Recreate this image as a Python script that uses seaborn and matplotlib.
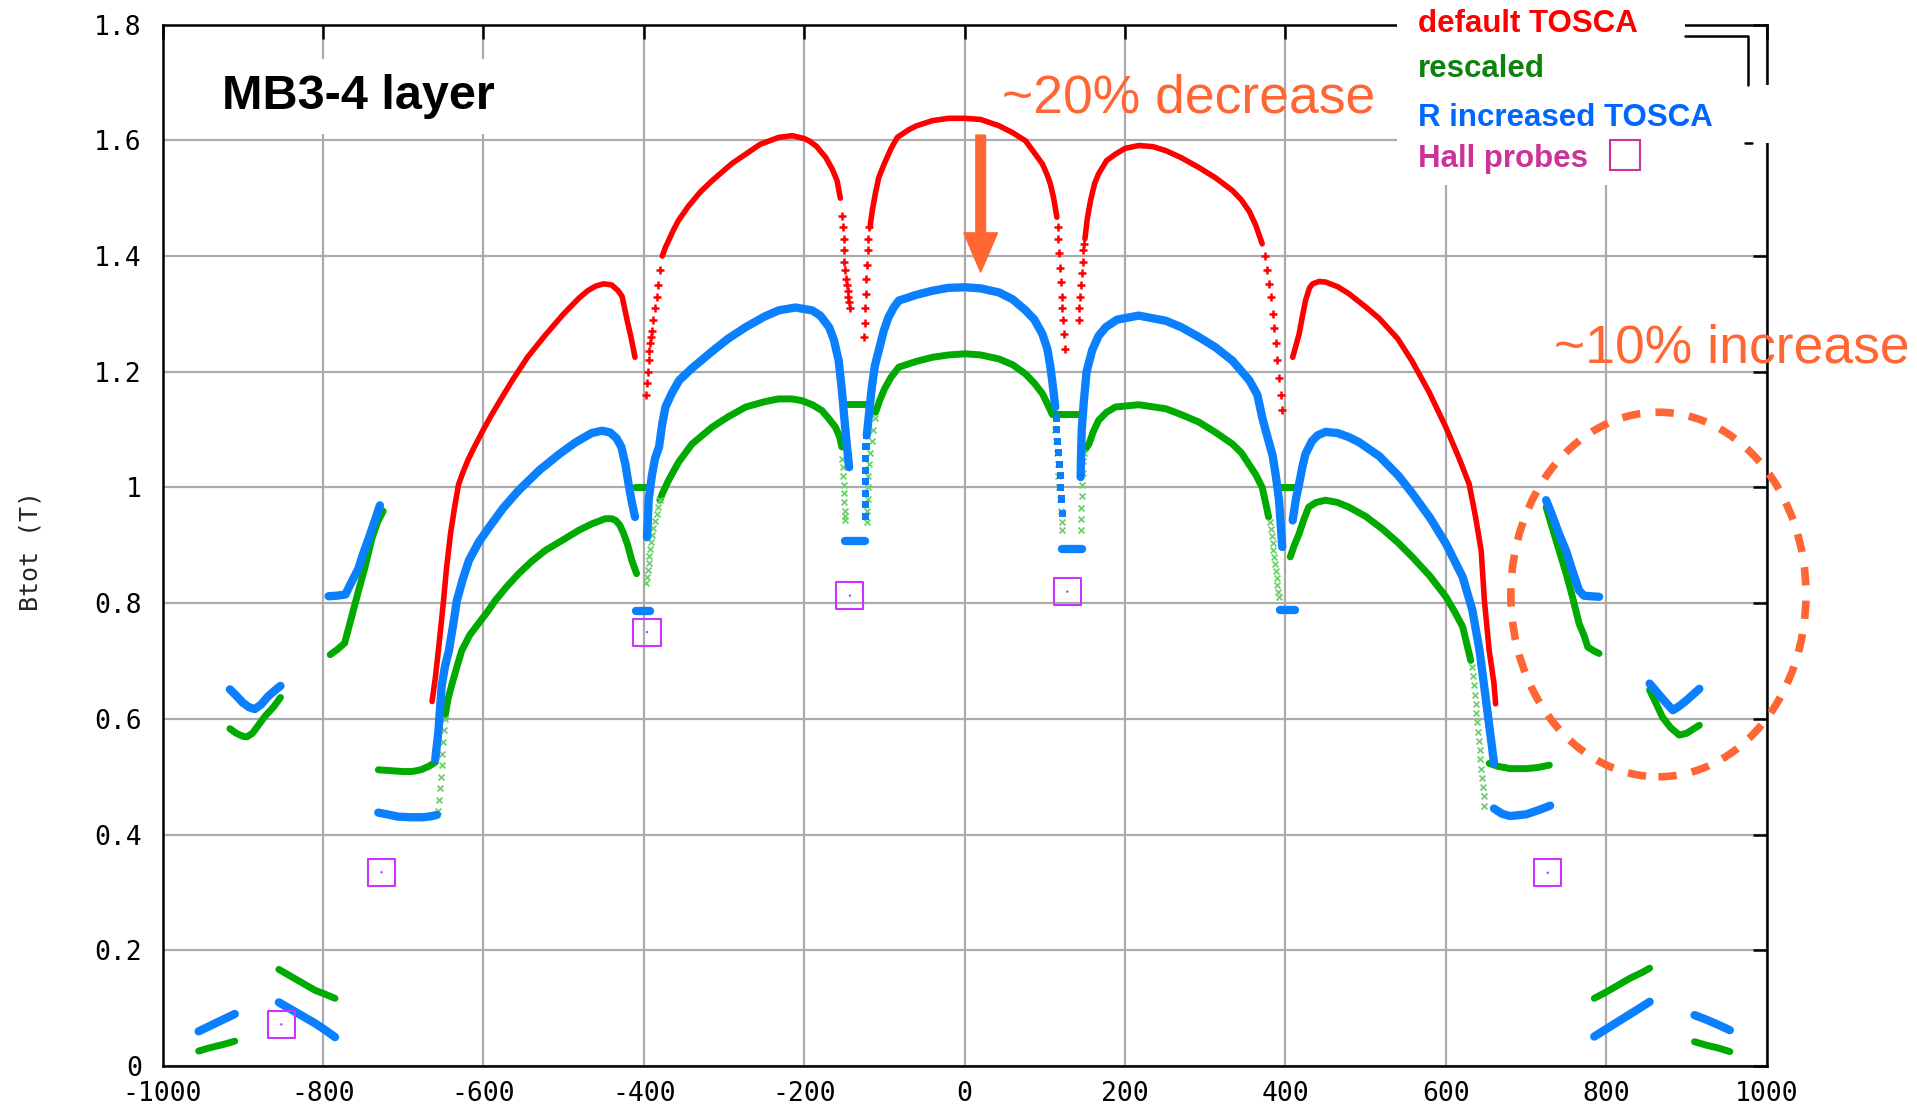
import matplotlib
matplotlib.use("Agg")
import matplotlib.pyplot as plt
from matplotlib.patches import Ellipse, Rectangle
from matplotlib.lines import Line2D
import seaborn as sns

# ---------------- axis ticks ----------------
x_ticks = [-1000, -800, -600, -400, -200, 0, 200, 400, 600, 800, 1000]
x_tick_labels = ["-1000", "-800", "-600", "-400", "-200", "0", "200", "400", "600", "800", "1000"]
y_ticks = [0, 0.2, 0.4, 0.6, 0.8, 1.0, 1.2, 1.4, 1.6, 1.8]
y_tick_labels = ["0", "0.2", "0.4", "0.6", "0.8", "1", "1.2", "1.4", "1.6", "1.8"]

legend_labels = ["default TOSCA", "rescaled", "R increased TOSCA", "Hall probes"]

# ---------------- default TOSCA (red) ----------------
red_curves = [
    ([-664, -660, -656, -650, -646, -641, -636, -631, -625, -619, -612, -600, -590, -578, -564, -545,
      -523, -500, -481, -470, -460, -450, -440, -432, -427, -424, -421, -416, -411],
     [0.63, 0.67, 0.72, 0.80, 0.86, 0.92, 0.965, 1.005, 1.028, 1.048, 1.068, 1.10, 1.125, 1.153, 1.185,
      1.225, 1.263, 1.30, 1.327, 1.34, 1.348, 1.352, 1.35, 1.34, 1.33, 1.31, 1.29, 1.26, 1.225]),
    ([-377, -373, -369, -363, -357, -345, -330, -315, -300, -290, -273, -255, -232, -215, -200, -194,
      -185, -173, -165, -159, -155],
     [1.40, 1.415, 1.427, 1.445, 1.461, 1.485, 1.51, 1.53, 1.548, 1.56, 1.576, 1.593, 1.605, 1.608, 1.603,
      1.599, 1.59, 1.57, 1.55, 1.53, 1.50]),
    ([-118, -115, -111, -107, -100, -92, -84, -70, -60, -40, -20, 0, 20, 43, 60, 76, 86, 97, 103, 107,
      111, 115],
     [1.45, 1.48, 1.51, 1.536, 1.56, 1.585, 1.605, 1.618, 1.625, 1.634, 1.638, 1.638, 1.636, 1.625, 1.613,
      1.599, 1.58, 1.559, 1.54, 1.524, 1.50, 1.467]),
    ([150, 153, 157, 162, 167, 177, 188, 200, 217, 235, 251, 270, 292, 313, 334, 345, 355, 363, 371],
     [1.43, 1.465, 1.496, 1.525, 1.542, 1.565, 1.576, 1.586, 1.591, 1.589, 1.582, 1.570, 1.553, 1.535,
      1.513, 1.497, 1.477, 1.453, 1.421]),
    ([409, 413, 417, 421, 425, 430, 434, 442, 450, 465, 479, 500, 517, 540, 558, 579, 600, 616, 629, 637,
      644, 648, 654, 660, 662],
     [1.225, 1.245, 1.265, 1.295, 1.323, 1.345, 1.352, 1.356, 1.355, 1.347, 1.335, 1.312, 1.292, 1.257,
      1.218, 1.165, 1.104, 1.052, 1.006, 0.949, 0.891, 0.805, 0.718, 0.661, 0.626]),
]
red_sparse = [
    ([-397, -396, -395, -394, -393, -392, -391, -390, -388, -386, -384, -382, -380],
     [1.16, 1.18, 1.20, 1.22, 1.235, 1.25, 1.26, 1.27, 1.29, 1.31, 1.33, 1.35, 1.375]),
    ([-153, -152, -151, -150.5, -150, -149, -148, -147, -146, -145, -144, -143],
     [1.47, 1.45, 1.43, 1.41, 1.39, 1.375, 1.36, 1.35, 1.34, 1.33, 1.32, 1.31]),
    ([-125, -124.5, -124, -123.5, -123, -122, -121, -120, -119],
     [1.26, 1.285, 1.31, 1.335, 1.36, 1.385, 1.41, 1.43, 1.45]),
    ([116, 117, 118, 119, 120, 121, 122, 123, 124, 125],
     [1.45, 1.43, 1.405, 1.38, 1.355, 1.33, 1.31, 1.29, 1.265, 1.24]),
    ([142, 143, 144, 145, 146, 147, 148, 149],
     [1.29, 1.31, 1.33, 1.35, 1.37, 1.39, 1.41, 1.42]),
    ([374, 377, 380, 382, 384, 386, 388, 390, 392, 394, 396],
     [1.40, 1.375, 1.352, 1.33, 1.30, 1.275, 1.25, 1.22, 1.19, 1.16, 1.133]),
]

# ---------------- rescaled (green) ----------------
green_curves = [
    ([-955, -940, -925, -910], [0.026, 0.032, 0.037, 0.043]),
    ([-855, -840, -825, -810, -797, -785], [0.167, 0.155, 0.143, 0.131, 0.124, 0.117]),
    ([-916, -908, -900, -895, -888, -880, -872, -862, -853],
     [0.583, 0.575, 0.570, 0.569, 0.575, 0.59, 0.605, 0.62, 0.637]),
    ([-791, -782, -773, -764, -756, -748, -739, -732, -725],
     [0.711, 0.72, 0.731, 0.778, 0.82, 0.86, 0.912, 0.94, 0.959]),
    ([-731, -720, -710, -700, -689, -678, -668, -660],
     [0.512, 0.511, 0.510, 0.509, 0.509, 0.512, 0.518, 0.525]),
    ([-648, -644, -639, -633, -627, -617, -606, -595, -585, -570, -556, -540, -523, -500, -481, -465,
      -448, -440, -435, -430, -425, -420, -415, -409],
     [0.603, 0.635, 0.661, 0.69, 0.718, 0.745, 0.765, 0.785, 0.805, 0.83, 0.851, 0.872, 0.891, 0.91,
      0.926, 0.937, 0.946, 0.946, 0.943, 0.935, 0.920, 0.90, 0.874, 0.851]),
    ([-411, -401, -392], [1.0, 1.0, 1.0]),
    ([-380, -377, -370, -363, -356, -340, -315, -295, -273, -250, -232, -215, -203, -190, -178, -170,
      -161, -156, -153],
     [0.978, 0.989, 1.01, 1.028, 1.045, 1.075, 1.104, 1.122, 1.139, 1.148, 1.153, 1.153, 1.150, 1.143,
      1.133, 1.12, 1.104, 1.088, 1.070]),
    ([-147, -136, -124], [1.145, 1.145, 1.145]),
    ([-111, -106, -100, -92, -82, -60, -40, -20, 1, 20, 43, 60, 76, 87, 97, 103, 109],
     [1.13, 1.15, 1.17, 1.19, 1.208, 1.218, 1.225, 1.229, 1.231, 1.229, 1.222, 1.212, 1.196, 1.18, 1.162,
      1.145, 1.127]),
    ([109, 128, 146], [1.127, 1.127, 1.127]),
    ([150, 155, 160, 167, 177, 188, 217, 251, 270, 292, 313, 334, 345, 354, 363, 371, 375, 379],
     [1.065, 1.075, 1.095, 1.116, 1.13, 1.139, 1.143, 1.136, 1.126, 1.113, 1.095, 1.075, 1.06, 1.041,
      1.022, 1.0, 0.975, 0.949]),
    ([390, 400, 411], [1.0, 1.0, 1.0]),
    ([406, 411, 417, 423, 429, 438, 450, 465, 479, 500, 521, 540, 558, 580, 600, 611, 621, 626, 631],
     [0.880, 0.90, 0.920, 0.945, 0.966, 0.974, 0.978, 0.974, 0.966, 0.950, 0.928, 0.905, 0.880, 0.847,
      0.811, 0.785, 0.759, 0.73, 0.701]),
    ([654, 665, 680, 700, 715, 729], [0.523, 0.518, 0.514, 0.514, 0.516, 0.52]),
    ([725, 737, 750, 758, 766, 772, 777, 784, 791],
     [0.966, 0.91, 0.851, 0.81, 0.765, 0.745, 0.724, 0.718, 0.713]),
    ([854, 862, 870, 880, 891, 900, 908, 916], [0.650, 0.627, 0.603, 0.585, 0.572, 0.575, 0.582, 0.589]),
    ([785, 800, 815, 830, 845, 854], [0.117, 0.128, 0.140, 0.152, 0.162, 0.169]),
    ([910, 925, 940, 954], [0.042, 0.036, 0.031, 0.025]),
]
green_sparse = [
    ([-656, -655, -654, -653, -652, -651, -650, -649, -648],
     [0.44, 0.46, 0.48, 0.50, 0.52, 0.54, 0.56, 0.58, 0.60]),
    ([-397, -396, -395, -394, -393, -392, -391, -390, -388, -386, -384, -382, -380],
     [0.834, 0.846, 0.858, 0.870, 0.882, 0.894, 0.906, 0.918, 0.93, 0.942, 0.954, 0.966, 0.978]),
    ([-152.5, -152, -151.5, -151, -150.5, -150, -149.5, -149, -148.6],
     [1.05, 1.035, 1.02, 1.005, 0.99, 0.975, 0.96, 0.95, 0.943]),
    ([-122, -121.5, -121, -120.5, -120, -119, -118, -116, -114, -112],
     [0.94, 0.96, 0.98, 1.0, 1.02, 1.04, 1.06, 1.08, 1.10, 1.12]),
    ([113, 114, 115, 116, 117, 118, 119, 120, 121, 121.6],
     [1.10, 1.08, 1.06, 1.04, 1.02, 1.00, 0.98, 0.96, 0.94, 0.926]),
    ([144.6, 145, 145.5, 146, 146.5, 147, 148, 149],
     [0.926, 0.945, 0.965, 0.985, 1.005, 1.025, 1.045, 1.06]),
    ([381, 382, 383, 384, 385, 386, 387, 388, 389, 390, 391, 392],
     [0.94, 0.928, 0.916, 0.904, 0.892, 0.88, 0.868, 0.856, 0.844, 0.832, 0.82, 0.811]),
    ([633, 634, 635, 636, 637, 638, 639, 640, 641, 642, 643, 644, 645, 646, 647, 648],
     [0.69, 0.674, 0.658, 0.642, 0.626, 0.61, 0.594, 0.578, 0.562, 0.546, 0.53, 0.514, 0.498, 0.482,
      0.466, 0.45]),
]

# ---------------- R increased TOSCA (blue) ----------------
blue_curves = [
    ([-955, -940, -925, -910], [0.060, 0.070, 0.080, 0.090]),
    ([-855, -840, -825, -810, -797, -785], [0.110, 0.098, 0.086, 0.074, 0.062, 0.050]),
    ([-916, -908, -900, -892, -885, -877, -869, -861, -853],
     [0.651, 0.640, 0.628, 0.620, 0.617, 0.625, 0.638, 0.648, 0.657]),
    ([-793, -782, -772, -765, -756, -750, -743, -736, -729],
     [0.812, 0.813, 0.815, 0.835, 0.859, 0.885, 0.912, 0.94, 0.969]),
    ([-731, -720, -706, -690, -675, -664, -658], [0.438, 0.435, 0.431, 0.430, 0.430, 0.432, 0.434]),
    ([-660, -656, -652, -648, -643, -638, -633, -626, -618, -606, -593, -575, -556, -530, -505, -485,
      -465, -452, -442, -434, -428, -423, -419, -415, -411],
     [0.53, 0.58, 0.657, 0.69, 0.718, 0.76, 0.805, 0.84, 0.874, 0.905, 0.931, 0.965, 0.995, 1.03, 1.058,
      1.078, 1.094, 1.098, 1.095, 1.085, 1.07, 1.04, 1.006, 0.975, 0.949]),
    ([-410, -401, -392], [0.786, 0.786, 0.786]),
    ([-396, -395, -394, -390, -386, -381, -377, -373, -365, -356, -340, -315, -295, -273, -250, -232,
      -211, -190, -180, -169, -163, -157, -153, -150, -147, -144],
     [0.914, 0.94, 0.978, 1.02, 1.05, 1.07, 1.11, 1.139, 1.163, 1.185, 1.206, 1.235, 1.257, 1.277, 1.295,
      1.306, 1.311, 1.306, 1.297, 1.277, 1.255, 1.219, 1.167, 1.12, 1.075, 1.035]),
    ([-149, -136, -124], [0.907, 0.907, 0.907]),
    ([-122, -119, -116, -112, -107, -101, -95, -88, -82, -60, -40, -20, 1, 20, 43, 60, 76, 87, 97, 103,
      107, 110, 113],
     [1.09, 1.13, 1.17, 1.21, 1.237, 1.27, 1.294, 1.312, 1.323, 1.333, 1.340, 1.345, 1.346, 1.344, 1.337,
      1.325, 1.306, 1.29, 1.265, 1.24, 1.208, 1.175, 1.139]),
    ([122, 134, 146], [0.894, 0.894, 0.894]),
    ([144.6, 145, 146, 148.7, 152, 159, 167, 176, 190, 217, 251, 270, 292, 313, 334, 355, 365, 371, 376,
      380, 384, 388, 392, 396],
     [1.018, 1.05, 1.10, 1.15, 1.20, 1.237, 1.262, 1.277, 1.29, 1.297, 1.288, 1.277, 1.260, 1.242, 1.219,
      1.185, 1.16, 1.121, 1.095, 1.075, 1.055, 1.02, 0.978, 0.897]),
    ([393, 402, 412], [0.788, 0.788, 0.788]),
    ([409, 413, 417, 421, 425, 433, 440, 450, 465, 479, 492, 517, 541, 558, 580, 600, 621, 633, 642, 650,
      658, 660],
     [0.943, 0.98, 1.006, 1.035, 1.058, 1.08, 1.09, 1.096, 1.094, 1.087, 1.078, 1.054, 1.02, 0.99, 0.948,
      0.903, 0.845, 0.788, 0.718, 0.632, 0.546, 0.523]),
    ([660, 670, 680, 700, 715, 730], [0.445, 0.436, 0.432, 0.435, 0.442, 0.450]),
    ([725, 733, 741, 750, 758, 766, 772, 780, 791],
     [0.978, 0.95, 0.92, 0.89, 0.855, 0.822, 0.813, 0.812, 0.811]),
    ([854, 862, 870, 877, 883, 891, 900, 908, 916],
     [0.661, 0.648, 0.635, 0.624, 0.615, 0.622, 0.632, 0.642, 0.652]),
    ([785, 800, 815, 830, 845, 854], [0.051, 0.064, 0.077, 0.090, 0.103, 0.111]),
    ([910, 925, 940, 954], [0.088, 0.080, 0.071, 0.062]),
]
blue_sparse = [
    ([-124, -124, -124, -123.8, -123.5, -123.2, -123, -122.6],
     [0.95, 0.97, 0.99, 1.01, 1.03, 1.05, 1.07, 1.09]),
    ([114, 115, 116, 117, 118, 119, 120, 121, 122],
     [1.12, 1.10, 1.08, 1.06, 1.04, 1.02, 1.00, 0.98, 0.955]),
]

# ---------------- Hall probe measurements ----------------
hall_x = [-852, -727, -396, -143, 128, 727]
hall_y = [0.072, 0.335, 0.750, 0.813, 0.820, 0.334]

# ---------------- colours ----------------
RED = "#FF0000"
GREEN = "#00AA00"
LIGHT_GREEN = "#6FD06F"
BLUE = "#0A80FF"
PROBE = "#CC33FF"
ORANGE = "#FF6633"

W, H = 1917, 1107

sns.set_style("white")
plt.rcParams["font.family"] = ["Liberation Sans", "DejaVu Sans"]

fig = plt.figure(figsize=(W / 100, H / 100), dpi=100)
ax = fig.add_axes([0.0848, 0.0370, 0.8368, 0.9408])


def draw_curves(curves, color, lw, z):
    for xs, ys in curves:
        sns.lineplot(x=xs, y=ys, sort=False, estimator=None, color=color, linewidth=lw,
                     solid_capstyle="round", solid_joinstyle="round", ax=ax, zorder=z, legend=False)


def draw_sparse(groups, color, marker, size, lw, z):
    for xs, ys in groups:
        if marker in ("+", "x"):
            sns.scatterplot(x=xs, y=ys, marker=marker, s=size, color=color, linewidth=lw,
                            ax=ax, zorder=z, legend=False)
        else:
            sns.scatterplot(x=xs, y=ys, marker=marker, s=size, color=color, edgecolor="none",
                            ax=ax, zorder=z, legend=False)


draw_curves(red_curves, RED, 4.0, 3)
draw_sparse(red_sparse, RED, "+", 30, 1.8, 3)
draw_curves(green_curves, GREEN, 5.0, 4)
draw_sparse(green_sparse, LIGHT_GREEN, "x", 18, 1.3, 4)
draw_curves(blue_curves, BLUE, 6.0, 5)
draw_sparse(blue_sparse, BLUE, "s", 26, 0, 5)

# Hall probe squares with their centre dot
sns.scatterplot(x=hall_x, y=hall_y, marker="s", s=380, facecolors="none", edgecolors=PROBE,
                linewidth=1.5, ax=ax, zorder=6, legend=False)
sns.scatterplot(x=hall_x, y=hall_y, marker="o", s=3, color=PROBE, edgecolor="none",
                ax=ax, zorder=6, legend=False)

# axes cosmetics
ax.set_xlim(-1000, 1000)
ax.set_ylim(0, 1.8)
ax.set_xticks(x_ticks)
ax.set_xticklabels(x_tick_labels)
ax.set_yticks(y_ticks)
ax.set_yticklabels(y_tick_labels)
ax.grid(True, color="#ABABAB", linewidth=1.6)
ax.set_axisbelow(True)
for s in ax.spines.values():
    s.set_color("black")
    s.set_linewidth(1.8)
    s.set_visible(True)
ax.tick_params(direction="in", length=10, width=1.8, top=True, right=True,
               labelsize=19, colors="black")
ax.tick_params(axis="x", pad=11)
ax.tick_params(axis="y", pad=15)
for lab in ax.get_xticklabels() + ax.get_yticklabels():
    lab.set_fontfamily("DejaVu Sans Mono")
ax.set_xlabel("")
ax.set_ylabel("Btot (T)", fontsize=18, fontfamily="DejaVu Sans Mono")
ax.yaxis.set_label_coords(-0.075, 0.495)

# annotations
ax.text(-926, 1.654, "MB3-4 layer", fontsize=35, fontweight="bold", color="black",
        va="baseline", ha="left", zorder=7,
        bbox=dict(boxstyle="square,pad=0.3", fc="white", ec="none"))
ax.text(47, 1.648, "~20% decrease", fontsize=38.5, color=ORANGE, va="baseline", ha="left",
        zorder=7, clip_on=False)
ax.text(735, 1.216, "~10% increase", fontsize=38.5, color=ORANGE, va="baseline", ha="left",
        zorder=7, clip_on=False)
ax.arrow(20, 1.609, 0, -0.237, width=12, head_width=42, head_length=0.068,
         length_includes_head=True, color=ORANGE, zorder=7)
ax.add_patch(Ellipse((865, 0.815), 368, 0.63, fill=False, edgecolor=ORANGE, linewidth=5.5,
                     linestyle=(0, (2.4, 2.0)), clip_on=False, zorder=7))

# key box in the upper right corner
def fig_rect(x0, y0, x1, y1, **kw):
    fig.add_artist(Rectangle((x0 / W, 1 - y1 / H), (x1 - x0) / W, (y1 - y0) / H,
                             transform=fig.transFigure, **kw))


fig_rect(1397, 0, 1685, 85, fc="white", ec="none", zorder=5)
fig_rect(1397, 85, 1782, 143, fc="white", ec="none", zorder=5)
fig_rect(1397, 143, 1745, 185, fc="white", ec="none", zorder=5)
fig.add_artist(Line2D([1685 / W, 1748 / W, 1748 / W], [1 - 36 / H, 1 - 36 / H, 1 - 85 / H],
                      transform=fig.transFigure, color="black", linewidth=1.8, zorder=6))
fig.add_artist(Line2D([1745 / W, 1752 / W], [1 - 143 / H, 1 - 143 / H],
                      transform=fig.transFigure, color="black", linewidth=1.8, zorder=6))

legend_colors = [RED, "#0E820E", "#0066FF", "#CC3399"]
legend_baselines = [31.7, 77, 126, 167]
for label, col, yb in zip(legend_labels, legend_colors, legend_baselines):
    fig.text(1418 / W, 1 - yb / H, label, fontsize=22.5, fontweight="bold", color=col,
             ha="left", va="baseline", zorder=7)
fig_rect(1610, 140, 1640, 170, fc="none", ec="#CC3399", lw=1.5, zorder=7)

fig.savefig("out.png", dpi=100)
